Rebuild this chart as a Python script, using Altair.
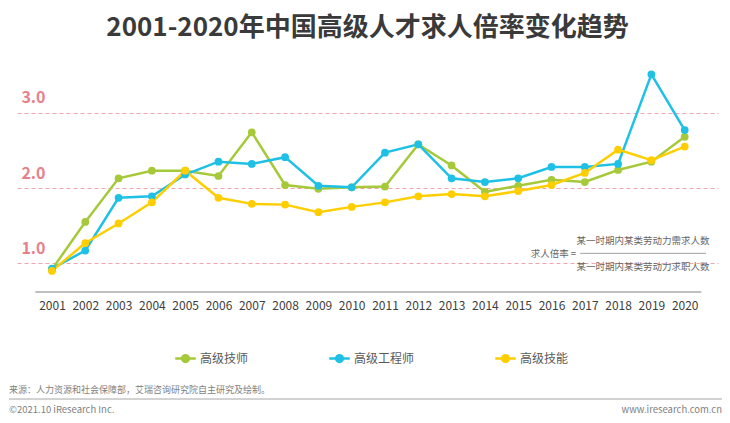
import altair as alt
import pandas as pd

# ---------------- data ----------------
years = list(range(2001, 2021))
series_names = ["高级技师", "高级工程师", "高级技能"]
technician = [0.92, 1.55, 2.13, 2.23, 2.23, 2.16, 2.74, 2.04, 1.99, 2.01,
              2.02, 2.58, 2.30, 1.95, 2.03, 2.11, 2.08, 2.24, 2.35, 2.68]
engineer = [0.93, 1.17, 1.87, 1.89, 2.18, 2.35, 2.32, 2.41, 2.03, 2.01,
            2.47, 2.58, 2.13, 2.08, 2.13, 2.28, 2.28, 2.32, 3.51, 2.77]
skill = [0.90, 1.27, 1.53, 1.81, 2.23, 1.87, 1.79, 1.78, 1.68, 1.75,
         1.81, 1.89, 1.92, 1.89, 1.96, 2.04, 2.20, 2.51, 2.37, 2.55]
colors = ["#A6C93A", "#1FC0E6", "#FFCE00"]
y_ticks = [1, 2, 3]

title_text = "2001-2020年中国高级人才求人倍率变化趋势"
formula_left = "求人倍率 ="
formula_num = "某一时期内某类劳动力需求人数"
formula_den = "某一时期内某类劳动力求职人数"
source_text = "来源：人力资源和社会保障部，艾瑞咨询研究院自主研究及绘制。"
copyright_text = "©2021.10 iResearch Inc."
site_text = "www.iresearch.com.cn"

FONT = "Noto Sans CJK SC"

rows = []
for name, vals in zip(series_names, [technician, engineer, skill]):
    for yr, v in zip(years, vals):
        rows.append({"year": yr, "value": v, "series": name})
df = pd.DataFrame(rows)

x_scale = alt.Scale(domain=[1999.95, 2021.0], nice=False, zero=False)
y_scale = alt.Scale(domain=[0.62, 3.7], nice=False, zero=False)
color_scale = alt.Scale(domain=series_names, range=colors)

legend_symbol = ("M-1,0L1,0M-0.33,0A0.33,0.33,0,1,0,0.33,0"
                 "A0.33,0.33,0,1,0,-0.33,0Z")

x_axis = alt.Axis(values=years, format="d", title=None, ticks=False,
                  domain=False, grid=False, labelPadding=8,
                  labelFontSize=12, labelColor="#404040",
                  labelFont=FONT, labelFlush=False,
                  labelOverlap=False, labelBound=False)
y_axis = alt.Axis(values=y_ticks, format=".1f", title=None,
                  ticks=False, domain=False, grid=True,
                  gridColor="#F2A3B0", gridDash=[4, 3], gridWidth=1,
                  labelPadding=-28, labelOffset=-15,
                  labelFontSize=16, labelFontWeight="bold",
                  labelColor="#E8808A", labelFont=FONT)


def X(field):
    return alt.X(field, scale=x_scale, axis=x_axis)


def Y(field):
    return alt.Y(field, scale=y_scale, axis=y_axis)


color_enc = alt.Color("series:N", scale=color_scale, sort=series_names,
                      legend=alt.Legend(orient="none", legendX=157, legendY=287,
                                        direction="horizontal", title=None,
                                        symbolType=legend_symbol, symbolSize=420,
                                        symbolStrokeWidth=2.5,
                                        labelFontSize=12, labelColor="#595959",
                                        labelFont=FONT, columnPadding=75,
                                        labelOffset=3))

base = alt.Chart(df)
lines = base.mark_line(strokeWidth=2.5).encode(
    x=X("year:Q"), y=Y("value:Q"), color=color_enc)
points = base.mark_circle(size=60, opacity=1).encode(
    x=X("year:Q"), y=Y("value:Q"), color=color_enc)

# x-axis baseline
axis_df = pd.DataFrame({"x": [2000.5], "x2": [2020.5], "y": [0.62]})
axis_line = alt.Chart(axis_df).mark_rule(color="#BFBFBF", strokeWidth=2).encode(
    x=X("x:Q"), x2="x2:Q", y=Y("y:Q"))

# formula annotation
ftxt_df = pd.DataFrame({
    "x": [2016.74, 2018.75, 2018.75],
    "y": [1.12, 1.30, 0.95],
    "t": [formula_left, formula_num, formula_den],
})
f_right = alt.Chart(ftxt_df.iloc[[0]]).mark_text(
    align="right", baseline="middle", fontSize=9.5, color="#666666", font=FONT
).encode(x=X("x:Q"), y=Y("y:Q"), text="t:N")
f_center = alt.Chart(ftxt_df.iloc[[1, 2]]).mark_text(
    align="center", baseline="middle", fontSize=9.5, color="#666666", font=FONT
).encode(x=X("x:Q"), y=Y("y:Q"), text="t:N")
frac_df = pd.DataFrame({"x": [2016.86], "x2": [2020.64], "y": [1.133]})
frac_line = alt.Chart(frac_df).mark_rule(color="#A0A0A0", strokeWidth=1).encode(
    x=X("x:Q"), x2="x2:Q", y=Y("y:Q"))

# footer
foot_df = pd.DataFrame({"t": [source_text]})
src = alt.Chart(foot_df).mark_text(
    align="left", baseline="middle", fontSize=9, color="#7F7F7F", font=FONT
).encode(x=alt.value(-8), y=alt.value(330), text="t:N")
sep = alt.Chart(foot_df).mark_rule(color="#A6A6A6", strokeWidth=1).encode(
    x=alt.value(-8), x2=alt.value(705), y=alt.value(339))
copy_df = pd.DataFrame({"t": [copyright_text]})
copy = alt.Chart(copy_df).mark_text(
    align="left", baseline="middle", fontSize=9.5, color="#7F7F7F", font=FONT
).encode(x=alt.value(-8), y=alt.value(350), text="t:N")
site_df = pd.DataFrame({"t": [site_text]})
site = alt.Chart(site_df).mark_text(
    align="right", baseline="middle", fontSize=9.5, color="#7F7F7F", font=FONT
).encode(x=alt.value(705), y=alt.value(350), text="t:N")

chart = alt.layer(
    axis_line, lines, points, frac_line, f_right, f_center, src, sep, copy, site
).properties(
    width=701, height=232,
    title=alt.Title(title_text, fontSize=26, fontWeight="bold", color="#3A3A3A",
                    font=FONT, anchor="middle", offset=19),
    autosize=alt.AutoSizeParams(type="none"),
    padding={"left": 9, "top": 52, "right": 4, "bottom": 123},
).configure(background="white").configure_view(strokeWidth=0, stroke="transparent")

chart.save("out.html", embed_options={"renderer": "svg", "actions": False})
